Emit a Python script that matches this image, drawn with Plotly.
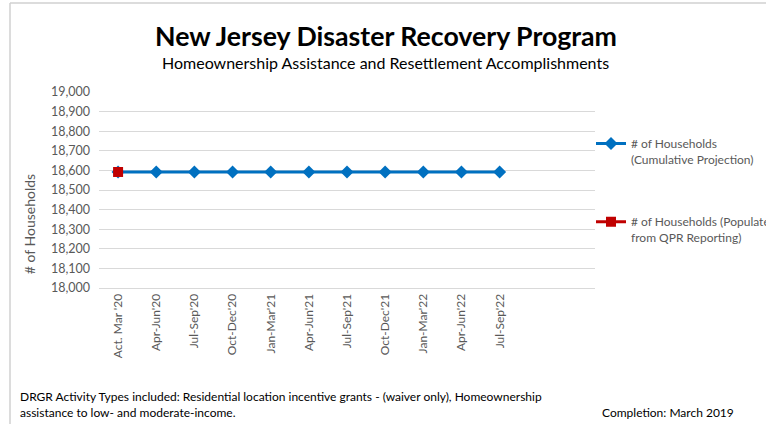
import plotly.graph_objects as go

categories = ["Act. Mar '20", "Apr-Jun'20", "Jul-Sep'20", "Oct-Dec'20", "Jan-Mar'21",
              "Apr-Jun'21", "Jul-Sep'21", "Oct-Dec'21", "Jan-Mar'22", "Apr-Jun'22", "Jul-Sep'22"]
projection = [18592] * 11
qpr_actual = [18592] + [None] * 10
y_ticks = list(range(18000, 19001, 100))

FONT = "Lato"
x_idx = list(range(len(categories)))

fig = go.Figure()
fig.add_trace(go.Scatter(
    x=x_idx, y=projection, mode="lines+markers",
    name="# of Households<br>(Cumulative Projection)",
    line=dict(color="#0070C0", width=3),
    marker=dict(symbol="diamond", size=10, color="#0070C0"),
    legendgroup="a",
))
fig.add_trace(go.Scatter(
    x=x_idx, y=qpr_actual, mode="lines+markers",
    name="# of Households (Populated<br>from QPR Reporting)",
    line=dict(color="#C00000", width=3),
    marker=dict(symbol="square", size=10, color="#C00000"),
    legendgroup="b",
))

fig.update_layout(
    width=766, height=424,
    paper_bgcolor="white", plot_bgcolor="white",
    margin=dict(l=99, r=171, t=92, b=136, autoexpand=False),
    font=dict(family=FONT, color="#595959", size=12),
    showlegend=True,
    legend=dict(
        x=1.0 - 4 / 496, xanchor="left", y=0.81, yanchor="top",
        traceorder="grouped", tracegroupgap=44,
        font=dict(size=12, color="#595959", family=FONT),
        itemwidth=30, valign="top",
        bgcolor="rgba(0,0,0,0)",
    ),
    xaxis=dict(
        range=[-0.5, 12.5],
        tickmode="array", tickvals=x_idx, ticktext=categories,
        tickangle=-90, showgrid=False, zeroline=False,
        showline=True, linecolor="#d9d9d9", linewidth=1,
        ticks="", tickfont=dict(size=12, color="#595959"),
    ),
    yaxis=dict(
        range=[18000, 19000], tickmode="array", tickvals=y_ticks,
        tickformat=",d", showgrid=True, gridcolor="#d9d9d9", gridwidth=1,
        zeroline=False, showline=False, ticks="", ticklabelstandoff=8,
        tickfont=dict(size=12.5, color="#595959"),
    ),
    annotations=[
        dict(text="<b>New Jersey Disaster Recovery Program</b>", xref="paper", yref="paper",
             x=0.578, y=1.0, yshift=56, xanchor="center", yanchor="middle", showarrow=False,
             font=dict(size=26.7, color="black", family=FONT)),
        dict(text="Homeownership Assistance and Resettlement Accomplishments", xref="paper", yref="paper",
             x=0.578, y=1.0, yshift=30, xanchor="center", yanchor="middle", showarrow=False,
             font=dict(size=16, color="black", family=FONT)),
        dict(text="# of Households", xref="paper", yref="paper",
             x=0, xshift=-70, y=0.31, yshift=3, textangle=-90, xanchor="center", yanchor="middle",
             showarrow=False, font=dict(size=14, color="#595959", family=FONT)),
        dict(text="DRGR Activity Types included: Residential location incentive grants - (waiver only), Homeownership<br>assistance to low- and moderate-income.",
             xref="paper", yref="paper", x=0, xshift=-81, y=0, yshift=-99, xanchor="left", yanchor="top",
             align="left", showarrow=False, font=dict(size=12, color="black", family=FONT)),
        dict(text="Completion: March 2019", xref="paper", yref="paper",
             x=1, xshift=141, y=0, yshift=-115, xanchor="right", yanchor="top",
             showarrow=False, font=dict(size=12, color="black", family=FONT)),
    ],
)

# light frame around the chart (left and top edges as in the original)
fx = (10 - 99) / 496
fy_top = (288 - 3) / 196
fy_bot = (288 - 424) / 196
fig.add_shape(type="line", xref="paper", yref="paper", layer="above",
              x0=fx, x1=fx, y0=fy_bot, y1=fy_top,
              line=dict(color="#d0d0d0", width=1.5))
fig.add_shape(type="line", xref="paper", yref="paper", layer="above",
              x0=fx, x1=(766 - 99) / 496, y0=fy_top, y1=fy_top,
              line=dict(color="#d0d0d0", width=1.5))

fig.write_html("out.html", config={"displayModeBar": False},
               post_script="document.body.style.margin='0';document.body.style.overflow='hidden';")
